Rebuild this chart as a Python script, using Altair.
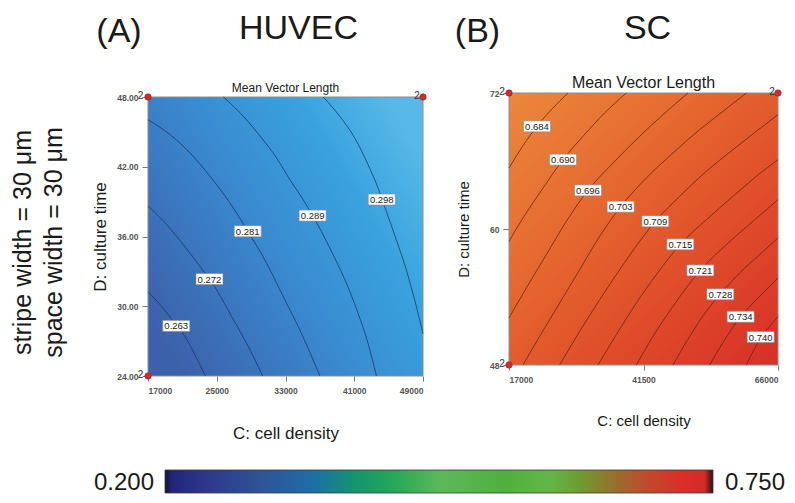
import altair as alt
import pandas as pd

FONT = "Liberation Sans, Arial, Helvetica, sans-serif"

# ---------------- Panel A (HUVEC) ----------------
a_levels = ["0.263", "0.272", "0.281", "0.289", "0.298"]
a_lines_x = [
    [17000, 18625, 19979, 21334, 22495, 23655],
    [17000, 19206, 21140, 23075, 25010, 26751, 28492, 30349],
    [17000, 19593, 21914, 24236, 26557, 28608, 30814, 32748, 34683, 37005],
    [25784, 28105, 30233, 31975, 33522, 35070, 36154, 37392, 38746, 40100, 41455, 42615, 43583],
    [37392, 39326, 41068, 42615, 43776, 44744, 45904, 47065, 48033, 49000],
]
a_lines_y = [
    [31.24, 29.95, 28.66, 27.36, 25.78, 24.0],
    [38.63, 36.99, 35.27, 33.40, 31.39, 29.09, 26.79, 24.0],
    [46.05, 44.75, 43.17, 41.16, 38.86, 36.45, 33.69, 30.81, 27.94, 24.0],
    [48.0, 46.33, 44.46, 42.74, 40.87, 39.15, 37.80, 36.13, 34.12, 31.96, 29.37, 26.79, 24.0],
    [48.0, 46.33, 44.46, 42.17, 40.15, 38.14, 35.70, 33.11, 30.52, 27.65],
]
a_label_x = [20289, 24158, 28608, 36154, 44202]
a_label_y = [28.31, 32.34, 36.45, 37.80, 39.18]
a_pts_x = [17000, 49000, 17000]
a_pts_y = [48, 48, 24]
a_xticks = [17000, 25000, 33000, 41000, 49000]
a_yticks = [24, 30, 36, 42, 48]

# ---------------- Panel B (SC) ----------------
b_levels = ["0.684", "0.690", "0.696", "0.703", "0.709", "0.715", "0.721", "0.728", "0.734", "0.740"]
b_lines_x = [
    [17000, 19550, 22100, 24893, 27747],
    [17000, 19550, 22586, 26836, 30480, 34426, 38373],
    [17000, 20157, 23801, 27444, 31390, 35944, 40802, 45052, 49606],
    [19550, 22586, 26229, 29872, 33516, 37341, 42016, 46874, 51731, 55982, 60232],
    [26229, 29872, 33516, 37159, 40802, 43656, 48088, 52946, 57803, 62054, 66000],
    [33212, 36552, 40195, 43838, 48210, 52946, 57803, 62054, 66000],
    [40195, 43231, 46874, 51853, 56589, 61446, 66000],
    [46874, 49910, 52946, 55496, 59018, 62661, 66000],
    [53553, 55982, 59200, 62661, 66000],
    [60232, 61628, 62843, 64482, 66000],
]
b_lines_y = [
    [65.38, 67.35, 69.06, 70.62, 72.0],
    [58.91, 60.97, 63.18, 66.12, 68.18, 70.24, 72.0],
    [52.15, 54.79, 57.74, 60.68, 63.41, 65.82, 68.18, 70.09, 72.0],
    [48.0, 50.53, 53.47, 56.41, 59.35, 61.97, 64.50, 66.71, 68.77, 70.38, 72.0],
    [48.0, 50.97, 53.76, 56.41, 58.91, 60.68, 62.88, 65.09, 67.00, 68.62, 70.09],
    [48.0, 50.68, 53.47, 55.97, 58.65, 60.82, 62.88, 64.65, 66.12],
    [48.0, 50.53, 53.18, 56.35, 58.62, 60.68, 62.59],
    [48.0, 50.53, 52.74, 54.24, 56.12, 57.74, 59.21],
    [48.0, 50.00, 52.26, 54.06, 55.68],
    [48.0, 49.35, 50.38, 51.41, 52.29],
]
b_label_x = [22100, 26836, 31390, 37341, 43656, 48210, 51853, 55496, 59200, 62843]
b_label_y = [69.06, 66.12, 63.41, 61.97, 60.68, 58.65, 56.35, 54.24, 52.26, 50.47]
b_pts_x = [17000, 66000, 17000]
b_pts_y = [72, 72, 48]
b_xticks = [17000, 41500, 66000]
b_yticks = [48, 60, 72]

# ---------------- Colour bar ----------------
cb_min = 0.200
cb_max = 0.750

W, H = 779, 487


def lines_df(levels, xs, ys):
    rows = []
    for lev, lx, ly in zip(levels, xs, ys):
        for i, (x, y) in enumerate(zip(lx, ly)):
            rows.append({"level": lev, "i": i, "x": x, "y": y})
    return pd.DataFrame(rows)


def stops(pairs):
    return [alt.GradientStop(offset=o, color=c) for o, c in pairs]


def make_panel(xdom, ydom, xrange_, yrange_, xticks, yticks, yfmt, levels, lxs, lys,
               labx, laby, ptsx, ptsy, grad, line_color, title_y, ytitle_x,
               ytitle_fs, xtitle_fs, dx2_left, dx2_right):
    xs = alt.Scale(domain=xdom, range=xrange_, nice=False, zero=False)
    ys = alt.Scale(domain=ydom, range=yrange_, nice=False, zero=False)
    x_off = -(H - yrange_[0])
    y_off = -xrange_[0]
    xax = alt.Axis(orient="bottom", offset=x_off, values=xticks, format="d",
                   title="C: cell density", titleFontSize=xtitle_fs, titleFontWeight="normal",
                   titleColor="#1a1a1a", titleBaseline="alphabetic", titleY=title_y,
                   titleFont=FONT, labelFont=FONT, labelFontSize=8.5, labelFontWeight="bold",
                   labelColor="#555555", labelPadding=5, tickSize=5, tickColor="#777777",
                   domain=False, grid=False)
    yax = alt.Axis(orient="left", offset=y_off, values=yticks, format=yfmt,
                   title="D: culture time", titleFontSize=ytitle_fs, titleFontWeight="normal",
                   titleColor="#1a1a1a", titleBaseline="alphabetic", titleX=ytitle_x,
                   titleFont=FONT, labelFont=FONT, labelFontSize=8.5, labelFontWeight="bold",
                   labelColor="#555555", labelPadding=4, tickSize=6, tickColor="#777777",
                   domain=False, grid=False)

    bg_df = pd.DataFrame({"x0": [xdom[0]], "x1": [xdom[1]], "y0": [ydom[0]], "y1": [ydom[1]]})
    bg = alt.Chart(bg_df).mark_rect(fill=grad, stroke="#8c8c8c", strokeWidth=1).encode(
        x=alt.X("x0:Q", scale=xs, axis=xax), x2="x1:Q",
        y=alt.Y("y0:Q", scale=ys, axis=yax), y2="y1:Q")

    ldf = lines_df(levels, lxs, lys)
    lines = alt.Chart(ldf).mark_line(color=line_color, strokeWidth=0.9, opacity=0.85,
                                     interpolate="monotone").encode(
        x=alt.X("x:Q", scale=xs, axis=xax),
        y=alt.Y("y:Q", scale=ys, axis=yax),
        detail="level:N", order="i:Q")

    lab_df = pd.DataFrame({"lx": labx, "ly": laby, "t": levels})
    boxes = alt.Chart(lab_df).mark_rect(fill="white", stroke="#8a8a8a", strokeWidth=0.6,
                                         xOffset=-13.5, x2Offset=13.5, yOffset=-5.5, y2Offset=5.5).encode(
        x=alt.X("lx:Q", scale=xs, axis=xax), x2="lx:Q",
        y=alt.Y("ly:Q", scale=ys, axis=yax), y2="ly:Q")
    texts = alt.Chart(lab_df).mark_text(font=FONT, fontSize=9.5, color="#222222",
                                         align="center", baseline="middle", dy=0.5).encode(
        x=alt.X("lx:Q", scale=xs, axis=xax), y=alt.Y("ly:Q", scale=ys, axis=yax), text="t:N")

    pdf = pd.DataFrame({"px": ptsx, "py": ptsy, "two": ["2", "2", "2"], "side": ["l", "r", "l"]})
    pts = alt.Chart(pdf).mark_circle(size=42, color="#d32a2a", opacity=1, stroke="#a01515",
                                     strokeWidth=0.5).encode(
        x=alt.X("px:Q", scale=xs, axis=xax), y=alt.Y("py:Q", scale=ys, axis=yax))
    twos_l = alt.Chart(pdf[pdf.side == "l"]).mark_text(font=FONT, fontSize=10, color="#333333",
                                                       align="center", baseline="middle",
                                                       dx=dx2_left, dy=-1.5).encode(
        x=alt.X("px:Q", scale=xs, axis=xax), y=alt.Y("py:Q", scale=ys, axis=yax), text="two:N")
    twos_r = alt.Chart(pdf[pdf.side == "r"]).mark_text(font=FONT, fontSize=10, color="#333333",
                                                       align="center", baseline="middle",
                                                       dx=dx2_right, dy=-1.5).encode(
        x=alt.X("px:Q", scale=xs, axis=xax), y=alt.Y("py:Q", scale=ys, axis=yax), text="two:N")

    return alt.layer(bg, lines, boxes, texts, pts, twos_l, twos_r)


grad_a = alt.LinearGradient(gradient="linear", x1=0, y1=0.8, x2=1, y2=0.2,
                            stops=stops([(0, "#3c60aa"), (0.45, "#3a8ad0"), (0.75, "#39a2de"), (1, "#57b9e8")]))
grad_b = alt.LinearGradient(gradient="linear", x1=0, y1=0, x2=1, y2=1,
                            stops=stops([(0, "#eb883c"), (0.45, "#e4602d"), (1, "#d82e27")]))

panel_a = make_panel([17000, 49000], [24, 48], [140, 415], [368, 89], a_xticks, a_yticks, ".2f",
                     a_levels, a_lines_x, a_lines_y, a_label_x, a_label_y, a_pts_x, a_pts_y,
                     grad_a, "#1b3263", 62, -43, 17, 17, -7.5, -6)
panel_b = make_panel([17000, 66000], [48, 72], [501, 770], [357, 85], b_xticks, b_yticks, "d",
                     b_levels, b_lines_x, b_lines_y, b_label_x, b_label_y, b_pts_x, b_pts_y,
                     grad_b, "#5e2412", 60, -41, 15, 15, -7, -6)

# colour bar
cb_grad = alt.LinearGradient(gradient="linear", x1=0, y1=0, x2=1, y2=0, stops=stops([
    (0.0, "#15122e"), (0.012, "#23247a"), (0.08, "#2d3a8c"), (0.18, "#2f5497"), (0.27, "#1e6da8"),
    (0.35, "#13966c"), (0.42, "#27a857"), (0.5, "#5cb85a"), (0.62, "#50b03e"), (0.7, "#62b647"),
    (0.76, "#6f9a31"), (0.82, "#97702e"), (0.88, "#c04a2c"), (0.95, "#dc2c28"), (0.985, "#d42a28"),
    (1.0, "#2a1212")]))
cbs = alt.Scale(domain=[cb_min, cb_max], range=[157, 705], nice=False, zero=False)
cb_df = pd.DataFrame({"a": [cb_min], "b": [cb_max]})
cbar = alt.Chart(cb_df).mark_rect(fill=cb_grad, stroke="#3a3a3a", strokeWidth=0.8).encode(
    x=alt.X("a:Q", scale=cbs, axis=None), x2="b:Q", y=alt.value(462), y2=alt.value(485))
cb_lab_df = pd.DataFrame({"v": [cb_min, cb_max], "t": [f"{cb_min:.3f}", f"{cb_max:.3f}"],
                          "al": ["r", "l"]})
cb_l = alt.Chart(cb_lab_df[cb_lab_df.al == "r"]).mark_text(
    font=FONT, fontSize=24, color="#1a1a1a", align="right", baseline="alphabetic", dx=-11).encode(
    x=alt.X("v:Q", scale=cbs, axis=None), y=alt.value(482), text="t:N")
cb_r = alt.Chart(cb_lab_df[cb_lab_df.al == "l"]).mark_text(
    font=FONT, fontSize=24, color="#1a1a1a", align="left", baseline="alphabetic", dx=12).encode(
    x=alt.X("v:Q", scale=cbs, axis=None), y=alt.value(482), text="t:N")
colorbar = alt.layer(cbar, cb_l, cb_r)


def label(text, x, y, size, angle=0, align="center"):
    return alt.Chart(pd.DataFrame({"t": [text]})).mark_text(
        font=FONT, fontSize=size, color="#1a1a1a", align=align, baseline="alphabetic",
        angle=angle).encode(x=alt.value(x), y=alt.value(y), text="t:N")


titles = [
    label("(A)", 111, 34, 34),
    label("HUVEC", 290.5, 31, 34),
    label("(B)", 469.5, 34, 34),
    label("SC", 639.5, 31, 34),
    label("Mean Vector Length", 277.5, 84, 12),
    label("Mean Vector Length", 635.5, 80.3, 16),
    label("stripe width = 30 \u03bcm", 23, 234.5, 25, angle=270),
    label("space width = 30 \u03bcm", 54, 234.5, 25, angle=270),
]

chart = alt.layer(panel_a, panel_b, colorbar, *titles).resolve_scale(
    x="independent", y="independent"
).properties(
    width=W, height=H, autosize=alt.AutoSizeParams(type="none"), padding=0
).configure_view(stroke=None)

chart.save("out.html", embed_options={"renderer": "svg", "actions": False})
